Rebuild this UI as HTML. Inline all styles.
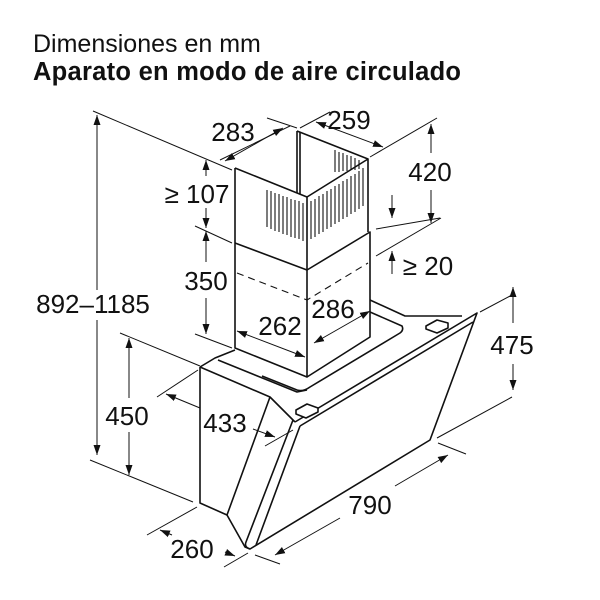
<!DOCTYPE html>
<html><head><meta charset="utf-8"><style>
html,body{margin:0;padding:0;background:#fff;width:600px;height:600px;overflow:hidden}
svg text{font-family:"Liberation Sans",sans-serif;fill:#111}
</style></head><body>
<svg width="600" height="600" viewBox="0 0 600 600" xmlns="http://www.w3.org/2000/svg">
<defs>
<marker id="a" viewBox="0 0 10 10" refX="10" refY="5" markerWidth="10" markerHeight="10" orient="auto-start-reverse" markerUnits="userSpaceOnUse"><path d="M0,1.5 L10,5 L0,8.5 z" fill="#111"/></marker>
</defs>
<text x="33" y="52" font-size="25">Dimensiones en mm</text>
<text x="33" y="80" font-size="25.5" font-weight="bold" textLength="428">Aparato en modo de aire circulado</text>
<g stroke="#111" fill="none" stroke-width="1.6" stroke-linejoin="round">
<path d="M297,131 L297,193 M300,132 L300,194"/>
<path d="M297,131 L368,159"/>
<path d="M235,168 L307,197 L368,159 L368,232"/>
<path d="M235,168 L235,348 L307,377 L307,197"/>
<path d="M235,243 L307,270 L370,232 L370,337 L307,377"/>
<path d="M237,273 L307,300 L368,263" stroke-dasharray="7,5" stroke-width="1.1"/>
<g stroke-width="1.1">
<path d="M267,190 v37 M271,191 v38 M275,193 v38 M279,194 v38 M283,196 v38 M287,197 v38 M291,199 v38 M295,200 v38 M299,201 v38 M303,203 v38"/>
<path d="M311,201 v38 M315,199 v38 M319,196 v38 M323,194 v38 M327,191 v38 M331,189 v38 M335,186 v38 M339,184 v38 M343,181 v38 M347,179 v38 M351,176 v38 M355,174 v38 M359,171 v38 M363,168 v38"/>
<path d="M335,150 v22 M339,152 v20 M343,153 v18 M347,155 v16 M351,156 v14 M355,158 v12 M359,160 v9"/>
</g>
<path d="M200,367 L215,358 L235,350"/>
<path d="M200,367 L270,397 L295,422"/>
<path d="M218,360 L297,392 L307,390"/>
<path d="M370,300 L405,316 L462,316"/>
<path d="M370,312 L402,326 Q404,330 400,333 L310,387 Q303,392 297,390 L262,376"/>
<path d="M200,367 L200,503 L227,515 L270,397"/>
<path d="M227,515 L245,547 L250,549"/>
<path d="M295,422 L477,313 L430,440 L250,549 Q244,547 246,542 L293,420"/>
<path d="M300,426 L473,322 M256,545 L300,426"/>
<path d="M296,410 L307,404 L318,408 L318,412 L306,418 L296,414 Z" fill="#fff"/>
<path d="M426,326 L437,320 L448,323 L448,328 L437,333 L426,329 Z" fill="#fff"/>
</g>
<g stroke="#111" fill="none" stroke-width="1">
<path d="M93,111 L232,170 M90,460 L193,502"/>
<path d="M97,115 L97,290 M97,320 L97,455" marker-start="url(#a)" marker-end="url(#a)"/>
<path d="M120,333 L200,366"/>
<path d="M129,338 L129,398 M129,432 L129,475" marker-start="url(#a)" marker-end="url(#a)"/>
<path d="M220,160 L290,126 M267,118 L297,128 M300,128 L330,112 M370,157 L437,118"/>
<path d="M225,161 L283,128" marker-start="url(#a)" marker-end="url(#a)"/>
<path d="M316,122 L383,147" marker-start="url(#a)" marker-end="url(#a)"/>
<path d="M431,124 L431,153 M431,190 L431,223" marker-start="url(#a)" marker-end="url(#a)"/>
<path d="M376,229 L440,218 M376,256 L441,218"/>
<path d="M195,226 L232,243 M195,334 L232,348"/>
<path d="M206,160 L206,176 M206,208 L206,228" marker-start="url(#a)" marker-end="url(#a)"/>
<path d="M206,231 L206,262 M206,298 L206,334" marker-start="url(#a)" marker-end="url(#a)"/>
<path d="M392,195 L392,218" marker-end="url(#a)"/>
<path d="M392,274 L392,251" marker-end="url(#a)"/>
<path d="M314,343 L370,311" marker-start="url(#a)" marker-end="url(#a)"/>
<path d="M237,331 L305,357" marker-start="url(#a)" marker-end="url(#a)"/>
<path d="M480,312 L512,295 M437,438 L512,397"/>
<path d="M513,287 L513,323 M513,364 L513,390" marker-start="url(#a)" marker-end="url(#a)"/>
<path d="M157,397 L198,370 M265,446 L293,430"/>
<path d="M166,394 L200,408 M253,429 L275,437" marker-start="url(#a)" marker-end="url(#a)"/>
<path d="M438,443 L466,454 M255,555 L280,564"/>
<path d="M275,555 L340,518 M395,486 L448,455" marker-start="url(#a)" marker-end="url(#a)"/>
<path d="M147,535 L197,507 M224,567 L248,553"/>
<path d="M160,530 L172,535 M225,552 L235,556" marker-start="url(#a)" marker-end="url(#a)"/>
</g>
<g font-size="26" text-anchor="middle">
<text x="93" y="313">892–1185</text>
<text x="127" y="425">450</text>
<text x="233" y="141">283</text>
<text x="349" y="129">259</text>
<text x="430" y="181">420</text>
<text x="197" y="203">≥ 107</text>
<text x="206" y="290">350</text>
<text x="428" y="275">≥ 20</text>
<text x="333" y="318">286</text>
<text x="280" y="335">262</text>
<text x="512" y="354">475</text>
<text x="225" y="432">433</text>
<text x="370" y="514">790</text>
<text x="192" y="558">260</text>
</g>
</svg>
</body></html>
